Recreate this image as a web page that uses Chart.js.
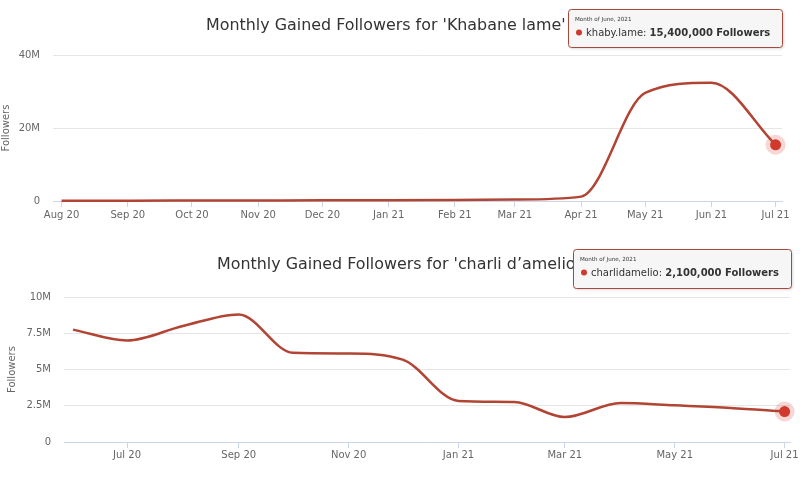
<!DOCTYPE html>
<html>
<head>
<meta charset="utf-8">
<script src="https://cdn.jsdelivr.net/npm/chart.js@4.4.0/dist/chart.umd.min.js"></script>
<style>
  html, body { margin: 0; padding: 0; background: #fff; }
  #wrap { position: relative; width: 800px; height: 489px; overflow: hidden; }
  canvas { position: absolute; left: 0; }
</style>
</head>
<body>
<div id="wrap">
  <canvas id="khaby" width="800" height="232" style="top:0"></canvas>
  <canvas id="charli" width="800" height="257" style="top:232px"></canvas>
</div>
<script>
// --- data: khaby.lame ---
const khabyMonths = ['2020-08', '2020-09', '2020-10', '2020-11', '2020-12', '2021-01',
                     '2021-02', '2021-03', '2021-04', '2021-05', '2021-06', '2021-07'];
const khabyGained = [100000, 100000, 120000, 150000, 200000, 200000,
                     250000, 400000, 1200000, 29600000, 32400000, 15400000];
const khabyRange = ['2020-07-28', '2021-07-04'];
const khabyTickMonths = ['2020-08', '2020-09', '2020-10', '2020-11', '2020-12', '2021-01',
                         '2021-02', '2021-03', '2021-04', '2021-05', '2021-06', '2021-07'];
const khabyTickLabels = ['Aug 20', 'Sep 20', 'Oct 20', 'Nov 20', 'Dec 20', 'Jan 21',
                         'Feb 21', 'Mar 21', 'Apr 21', 'May 21', 'Jun 21', 'Jul 21'];
const khabyYTicks = [0, 20000000, 40000000];
const khabyYLabels = ['0', '20M', '40M'];

// --- data: charlidamelio ---
const charliMonths = ['2020-06', '2020-07', '2020-08', '2020-09', '2020-10', '2020-11', '2020-12',
                      '2021-01', '2021-02', '2021-03', '2021-04', '2021-05', '2021-06', '2021-07'];
const charliGained = [7750000, 7000000, 8000000, 8800000, 6150000, 6100000, 5680000,
                      2830000, 2760000, 1720000, 2690000, 2530000, 2350000, 2100000];
const charliRange = ['2020-05-27', '2021-07-04'];
const charliTickMonths = ['2020-07', '2020-09', '2020-11', '2021-01', '2021-03', '2021-05', '2021-07'];
const charliTickLabels = ['Jul 20', 'Sep 20', 'Nov 20', 'Jan 21', 'Mar 21', 'May 21', 'Jul 21'];
const charliYTicks = [0, 2500000, 5000000, 7500000, 10000000];
const charliYLabels = ['0', '2.5M', '5M', '7.5M', '10M'];

const tooltipHeader = 'Month of June, 2021';

const LINE = '#b24434';
const MARKER = '#d0392b';
const FONT = '"DejaVu Sans", sans-serif';

Chart.defaults.font.family = FONT;
Chart.defaults.color = '#666';

function roundRect(ctx, x, y, w, h, r) {
    ctx.beginPath();
    ctx.moveTo(x + r, y);
    ctx.lineTo(x + w - r, y);
    ctx.quadraticCurveTo(x + w, y, x + w, y + r);
    ctx.lineTo(x + w, y + h - r);
    ctx.quadraticCurveTo(x + w, y + h, x + w - r, y + h);
    ctx.lineTo(x + r, y + h);
    ctx.quadraticCurveTo(x, y + h, x, y + h - r);
    ctx.lineTo(x, y + r);
    ctx.quadraticCurveTo(x, y, x + r, y);
    ctx.closePath();
}

function makeChart(id, o) {
    const n = o.values.length;
    const points = o.months.map((m, i) => ({ x: Date.parse(m), y: o.values[i] }));

    return new Chart(document.getElementById(id), {
        type: 'line',
        data: {
            datasets: [{
                data: points,
                borderColor: LINE,
                borderWidth: 2.5,
                cubicInterpolationMode: 'monotone',
                fill: false,
                clip: false,
                pointRadius: ctx => ctx.dataIndex === n - 1 ? 5.5 : 0,
                pointBackgroundColor: MARKER,
                pointBorderWidth: 0,
            }]
        },
        options: {
            responsive: false,
            animation: false,
            events: [],
            layout: { padding: o.padding },
            plugins: {
                legend: { display: false },
                tooltip: { enabled: false },
            },
            scales: {
                x: {
                    type: 'linear',
                    min: Date.parse(o.range[0]),
                    max: Date.parse(o.range[1]),
                    afterBuildTicks: s => { s.ticks = o.tickMonths.map(m => ({ value: Date.parse(m) })); },
                    afterFit: s => { s.height = o.xHeight; },
                    grid: { drawOnChartArea: false, drawTicks: true, tickLength: 6, color: '#ccd6eb' },
                    border: { display: true, color: '#ccd6eb', width: 1 },
                    ticks: {
                        autoSkip: false, maxRotation: 0, padding: o.xPad,
                        font: { size: 10 }, color: '#666',
                        callback: (v, i) => o.tickLabels[i]
                    }
                },
                y: {
                    min: 0,
                    max: o.yTicks[o.yTicks.length - 1],
                    afterBuildTicks: s => { s.ticks = o.yTicks.map(v => ({ value: v })); },
                    afterFit: s => { s.width = o.yWidth; },
                    grid: { color: '#e6e6e6', drawTicks: false },
                    border: { display: false },
                    ticks: {
                        padding: 13, font: { size: 10 }, color: '#666',
                        callback: (v, i) => o.yLabels[i]
                    },
                    title: { display: true, text: 'Followers', font: { size: 10 }, color: '#666', padding: 0 }
                }
            }
        },
        plugins: [{
            id: 'halo',
            beforeDatasetsDraw(chart) {
                const pt = chart.getDatasetMeta(0).data[n - 1];
                const ctx = chart.ctx;
                ctx.save();
                ctx.beginPath();
                ctx.arc(pt.x, pt.y, 10, 0, Math.PI * 2);
                ctx.fillStyle = 'rgba(208,57,43,0.2)';
                ctx.fill();
                ctx.restore();
            }
        }, {
            id: 'titleAndTip',
            afterDraw(chart) {
                const ctx = chart.ctx;
                ctx.save();
                // title
                ctx.font = '15.9px ' + FONT;
                ctx.fillStyle = '#333';
                ctx.textBaseline = 'alphabetic';
                ctx.fillText(o.title, o.titleX, o.titleY);

                // static hover tooltip
                const t = o.tip;
                ctx.shadowColor = 'rgba(0,0,0,0.2)';
                ctx.shadowOffsetX = 1;
                ctx.shadowOffsetY = 1;
                ctx.shadowBlur = 3;
                roundRect(ctx, t.x + 0.5, t.y + 0.5, t.w, t.h, 3);
                ctx.fillStyle = 'rgba(247,247,247,0.97)';
                ctx.fill();
                ctx.shadowColor = 'transparent';
                ctx.strokeStyle = '#a5473a';
                ctx.lineWidth = 1;
                ctx.stroke();

                ctx.fillStyle = '#333';
                ctx.font = '5.6px ' + FONT;
                ctx.fillText(tooltipHeader, t.x + 7, t.y + 12);

                ctx.beginPath();
                ctx.arc(t.x + 11, t.y + 23.5, 3, 0, Math.PI * 2);
                ctx.fillStyle = MARKER;
                ctx.fill();

                const label = o.name + ': ';
                ctx.font = '10px ' + FONT;
                ctx.fillStyle = '#333';
                ctx.fillText(label, t.x + 18, t.y + 27);
                const lw = ctx.measureText(label).width;
                ctx.font = 'bold 10px ' + FONT;
                ctx.fillText(o.values[n - 1].toLocaleString('en-US') + ' Followers', t.x + 18 + lw, t.y + 27);
                ctx.restore();
            }
        }]
    });
}

makeChart('khaby', {
    months: khabyMonths, values: khabyGained, range: khabyRange,
    tickMonths: khabyTickMonths, tickLabels: khabyTickLabels,
    yTicks: khabyYTicks, yLabels: khabyYLabels,
    padding: { left: 0, right: 18, top: 55, bottom: 0 },
    yWidth: 53, xHeight: 31, xPad: 2,
    title: "Monthly Gained Followers for 'Khabane lame'", titleX: 206, titleY: 30,
    name: 'khaby.lame',
    tip: { x: 568, y: 9, w: 214, h: 38 }
});

makeChart('charli', {
    months: charliMonths, values: charliGained, range: charliRange,
    tickMonths: charliTickMonths, tickLabels: charliTickLabels,
    yTicks: charliYTicks, yLabels: charliYLabels,
    padding: { left: 6, right: 10, top: 65, bottom: 0 },
    yWidth: 58, xHeight: 47, xPad: 1,
    title: "Monthly Gained Followers for 'charli d\u2019amelio'", titleX: 217, titleY: 37,
    name: 'charlidamelio',
    tip: { x: 573, y: 17, w: 218, h: 39 }
});
</script>
</body>
</html>
